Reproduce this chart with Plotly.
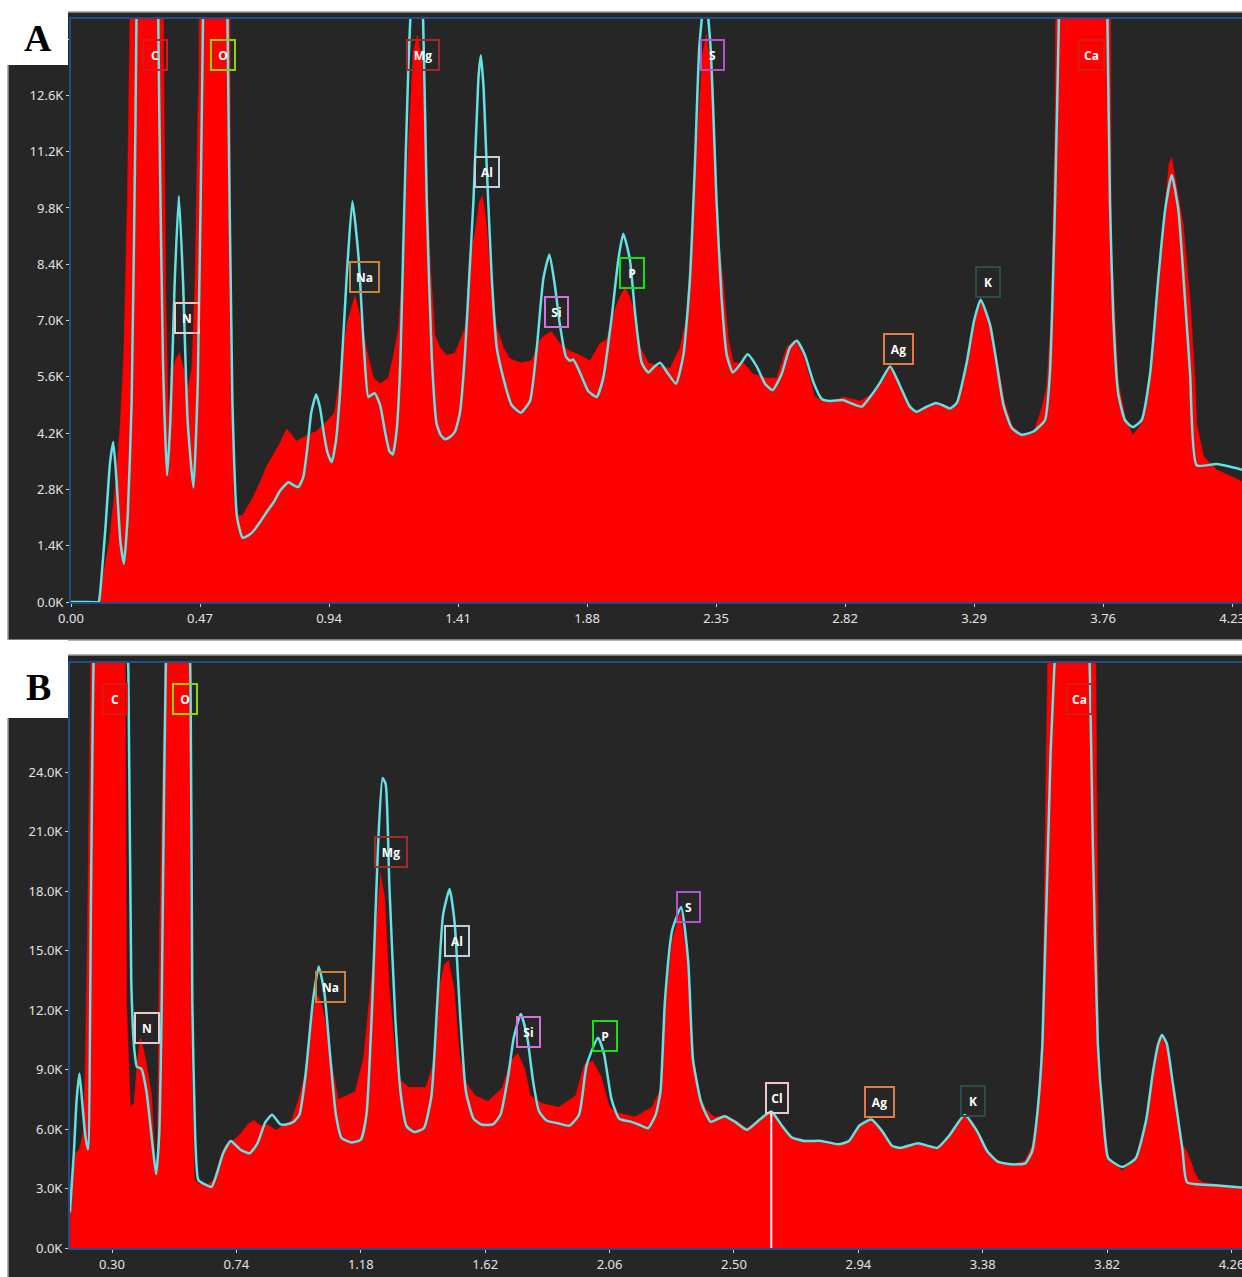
import plotly.graph_objects as go

# ---------------- Spectrum A ----------------
# fitted envelope (keV, counts)
A_FIT_KEV = [0.000, 0.050, 0.100, 0.103, 0.125, 0.142, 0.154, 0.166, 0.180, 0.193, 0.207, 0.221,
             0.235, 0.250, 0.277, 0.305, 0.322, 0.335, 0.350, 0.362, 0.378, 0.393, 0.408, 0.425,
             0.446, 0.462, 0.480, 0.500, 0.525, 0.550, 0.570, 0.588, 0.605, 0.625, 0.645, 0.664,
             0.690, 0.713, 0.740, 0.761, 0.792, 0.812, 0.828, 0.846, 0.862, 0.875, 0.893, 0.908,
             0.920, 0.935, 0.950, 0.965, 0.980, 1.004, 1.025, 1.047, 1.067, 1.083, 1.095, 1.107,
             1.126, 1.145, 1.160, 1.172, 1.186, 1.200, 1.211, 1.229, 1.259, 1.283, 1.296, 1.314,
             1.332, 1.347, 1.362, 1.380, 1.399, 1.417, 1.435, 1.450, 1.466, 1.484, 1.493, 1.503,
             1.514, 1.533, 1.551, 1.575, 1.605, 1.639, 1.672, 1.697, 1.721, 1.743, 1.763, 1.781,
             1.803, 1.818, 1.830, 1.854, 1.885, 1.915, 1.939, 1.970, 1.994, 2.012, 2.036, 2.055,
             2.079, 2.103, 2.125, 2.146, 2.176, 2.204, 2.231, 2.255, 2.273, 2.289, 2.310, 2.330,
             2.352, 2.370, 2.389, 2.411, 2.437, 2.465, 2.498, 2.528, 2.556, 2.589, 2.619, 2.644,
             2.674, 2.704, 2.735, 2.765, 2.814, 2.850, 2.881, 2.911, 2.947, 2.984, 3.020, 3.056,
             3.081, 3.115, 3.151, 3.180, 3.202, 3.227, 3.263, 3.290, 3.314, 3.348, 3.372, 3.397,
             3.427, 3.463, 3.506, 3.548, 3.566, 3.585, 3.603, 3.640, 3.690, 3.740, 3.773, 3.785,
             3.797, 3.815, 3.840, 3.868, 3.900, 3.931, 3.961, 3.986, 4.010, 4.034, 4.058, 4.077,
             4.101, 4.174, 4.266]
A_FIT_CTS = [0, 0, 0, 50, 1800, 3450, 3980, 3000, 1500, 950, 2200, 5000,
             12000, 22000, 30000, 22000, 12000, 6000, 3150, 4500, 8000, 10100, 8000, 4500,
             2850, 5500, 14000, 28000, 40000, 28000, 14500, 5000, 2100, 1600, 1650, 1760,
             2000, 2240, 2500, 2760, 2980, 2900, 2860, 3100, 3900, 4700, 5160, 4800,
             4240, 3700, 3480, 4000, 5190, 8050, 9970, 8620, 6330, 5100, 5150, 5190,
             4900, 4200, 3750, 3670, 4240, 6000, 9000, 13300, 17500, 14400, 9950, 6140,
             4430, 4150, 4050, 4100, 4240, 4710, 6140, 8000, 9950, 13000, 13600, 12800,
             10900, 8050, 6330, 5570, 4900, 4710, 5000, 6330, 8050, 8640, 7860, 6900,
             6100, 6000, 6030, 5710, 5240, 5100, 5570, 7100, 8520, 9160, 8520, 7190,
             5950, 5710, 5850, 5950, 5670, 5430, 6140, 8050, 10900, 13800, 15200, 13800,
             9950, 7570, 6140, 5710, 5900, 6160, 5860, 5430, 5270, 5670, 6330, 6500,
             6140, 5480, 5050, 5000, 5020, 4920, 4860, 5100, 5450, 5860, 5380, 4860,
             4730, 4850, 4950, 4880, 4810, 4950, 5950, 7000, 7520, 6900, 5950, 4900,
             4330, 4160, 4240, 4520, 5670, 9950, 16000, 35000, 45000, 35000, 16000, 9950,
             7100, 5190, 4520, 4350, 4520, 5670, 8050, 9760, 10620, 9760, 7570, 5670,
             3400, 3430, 3290]

# measured counts (keV, counts)
A_RAW_KEV = [0.000, 0.100, 0.110, 0.125, 0.140, 0.160, 0.178, 0.192, 0.205, 0.218, 0.230, 0.277,
             0.320, 0.335, 0.345, 0.355, 0.365, 0.380, 0.395, 0.410, 0.425, 0.440, 0.452, 0.462,
             0.466, 0.480, 0.525, 0.572, 0.582, 0.592, 0.605, 0.625, 0.645, 0.664, 0.690, 0.713,
             0.740, 0.761, 0.785, 0.800, 0.820, 0.835, 0.856, 0.875, 0.893, 0.910, 0.930, 0.960,
             0.985, 1.004, 1.020, 1.035, 1.050, 1.060, 1.078, 1.102, 1.126, 1.156, 1.175, 1.193,
             1.211, 1.229, 1.247, 1.262, 1.278, 1.290, 1.308, 1.326, 1.344, 1.368, 1.399, 1.417,
             1.435, 1.448, 1.460, 1.472, 1.487, 1.499, 1.514, 1.533, 1.551, 1.575, 1.600, 1.636,
             1.678, 1.709, 1.730, 1.750, 1.781, 1.818, 1.854, 1.891, 1.927, 1.951, 1.982, 2.000,
             2.018, 2.035, 2.049, 2.073, 2.103, 2.146, 2.182, 2.219, 2.243, 2.267, 2.285, 2.300,
             2.315, 2.340, 2.358, 2.376, 2.395, 2.413, 2.449, 2.485, 2.534, 2.571, 2.607, 2.637,
             2.668, 2.710, 2.753, 2.814, 2.875, 2.923, 2.960, 2.984, 3.020, 3.056, 3.085, 3.150,
             3.200, 3.230, 3.263, 3.290, 3.314, 3.350, 3.375, 3.400, 3.427, 3.463, 3.506, 3.536,
             3.554, 3.570, 3.585, 3.600, 3.690, 3.780, 3.790, 3.800, 3.815, 3.840, 3.868, 3.900,
             3.931, 3.961, 3.986, 4.000, 4.010, 4.030, 4.052, 4.077, 4.095, 4.101, 4.126, 4.174,
             4.220, 4.266]
A_RAW_CTS = [0, 0, 400, 1000, 1550, 2800, 4300, 6100, 9900, 16000, 30000, 35000,
             30000, 16000, 7700, 4500, 5600, 6000, 6200, 5800, 5300, 5800, 8000, 12000,
             13000, 30000, 40000, 30000, 9000, 2600, 2150, 2150, 2400, 2620, 3000, 3380,
             3700, 3950, 4300, 4200, 4000, 4050, 4140, 4200, 4240, 4350, 4480, 4710,
             5860, 6900, 7300, 7620, 7200, 6900, 6240, 5570, 5430, 5570, 6140, 6810,
             8620, 11400, 13700, 14100, 13500, 11900, 8520, 6620, 6330, 6140, 6190, 6520,
             6810, 7600, 8810, 9200, 9950, 10100, 9380, 7670, 6810, 6330, 6050, 5950,
             6000, 6520, 6650, 6730, 6430, 6240, 6140, 6000, 6430, 6520, 7290, 7600,
             7810, 7600, 7290, 6330, 5950, 5860, 5810, 6330, 7100, 9950, 11900, 13600,
             14100, 12800, 9100, 7950, 6520, 5950, 5950, 5670, 5570, 5570, 6330, 6520,
             6140, 5100, 4950, 5100, 5000, 5190, 5500, 5850, 5400, 4800, 4700, 4950,
             4800, 4900, 5950, 7000, 7480, 6900, 6000, 5000, 4400, 4150, 4200, 4810,
             5330, 7000, 12000, 30000, 45000, 30000, 9000, 7500, 5500, 4600, 4140, 4450,
             5600, 8000, 10000, 10900, 11050, 10300, 9380, 7480, 5500, 4430, 3620, 3290,
             3150, 3000]

# ---------------- Spectrum B ----------------
B_FIT_KEV = [0.151, 0.165, 0.175, 0.185, 0.196, 0.205, 0.215, 0.226, 0.240, 0.290, 0.345, 0.358,
             0.368, 0.379, 0.388, 0.404, 0.422, 0.442, 0.456, 0.467, 0.476, 0.485, 0.530, 0.578,
             0.584, 0.594, 0.605, 0.625, 0.652, 0.672, 0.693, 0.720, 0.753, 0.787, 0.814, 0.842,
             0.866, 0.896, 0.916, 0.943, 0.963, 0.984, 1.011, 1.031, 1.051, 1.072, 1.092, 1.112,
             1.146, 1.180, 1.200, 1.221, 1.241, 1.257, 1.268, 1.281, 1.302, 1.322, 1.342, 1.369,
             1.403, 1.430, 1.451, 1.471, 1.494, 1.512, 1.532, 1.552, 1.579, 1.606, 1.647, 1.674,
             1.701, 1.721, 1.746, 1.769, 1.789, 1.810, 1.837, 1.877, 1.918, 1.952, 1.979, 2.019,
             2.040, 2.067, 2.094, 2.135, 2.162, 2.196, 2.223, 2.240, 2.256, 2.281, 2.313, 2.338,
             2.355, 2.381, 2.394, 2.418, 2.467, 2.504, 2.546, 2.589, 2.632, 2.669, 2.705, 2.748,
             2.809, 2.870, 2.907, 2.944, 2.986, 3.023, 3.060, 3.090, 3.151, 3.219, 3.261, 3.316,
             3.359, 3.396, 3.433, 3.481, 3.530, 3.555, 3.573, 3.591, 3.620, 3.646, 3.700, 3.752,
             3.770, 3.787, 3.805, 3.824, 3.873, 3.921, 3.958, 3.982, 4.001, 4.014, 4.031, 4.050,
             4.068, 4.087, 4.103, 4.200, 4.297]
B_FIT_CTS = [1800, 4780, 7500, 8800, 7100, 5750, 4970, 18300, 35000, 50000, 35000, 29000,
             13500, 10000, 9140, 9040, 7880, 5360, 3720, 5750, 12500, 24100, 60000, 28000,
             12500, 5750, 3430, 3230, 3080, 3810, 4780, 5400, 4970, 4780, 5260, 6330,
             6720, 6230, 6230, 6370, 6720, 8650, 12500, 14200, 12900, 9620, 6720, 5550,
             5320, 5460, 6720, 12500, 20300, 23700, 23400, 18300, 11600, 7680, 6140, 5850,
             6040, 7680, 12500, 16800, 18100, 16400, 11600, 7880, 6520, 6230, 6230, 6720,
             8650, 10600, 11800, 10600, 8460, 6910, 6430, 6290, 6170, 6720, 9230, 10600,
             9810, 7490, 6520, 6370, 6230, 6040, 6720, 7880, 12500, 16000, 17200, 14500,
             9500, 7500, 6970, 6360, 6650, 6360, 5960, 6450, 6880, 6180, 5570, 5400,
             5400, 5230, 5400, 6180, 6480, 5920, 5140, 5050, 5280, 5050, 5660, 6710,
             5920, 4880, 4360, 4220, 4270, 4880, 6790, 10300, 25000, 33000, 45000, 33000,
             20000, 10300, 6790, 4530, 4090, 4530, 6450, 8880, 10300, 10740, 10300, 8540,
             6800, 4900, 3310, 3170, 3050]

B_RAW_KEV = [0.151, 0.158, 0.171, 0.185, 0.198, 0.205, 0.212, 0.222, 0.230, 0.290, 0.345, 0.352,
             0.365, 0.378, 0.390, 0.400, 0.412, 0.425, 0.440, 0.452, 0.460, 0.468, 0.478, 0.485,
             0.530, 0.575, 0.582, 0.592, 0.610, 0.640, 0.660, 0.680, 0.700, 0.720, 0.740, 0.760,
             0.780, 0.800, 0.830, 0.850, 0.880, 0.910, 0.935, 0.960, 0.980, 1.000, 1.020, 1.030,
             1.045, 1.065, 1.079, 1.100, 1.130, 1.160, 1.190, 1.210, 1.230, 1.250, 1.265, 1.280,
             1.300, 1.320, 1.350, 1.380, 1.410, 1.435, 1.460, 1.475, 1.490, 1.510, 1.530, 1.555,
             1.585, 1.630, 1.680, 1.710, 1.735, 1.760, 1.780, 1.820, 1.880, 1.940, 1.970, 2.000,
             2.030, 2.060, 2.090, 2.150, 2.210, 2.240, 2.256, 2.281, 2.310, 2.338, 2.355, 2.380,
             2.400, 2.430, 2.467, 2.504, 2.546, 2.589, 2.632, 2.669, 2.705, 2.748, 2.809, 2.870,
             2.907, 2.944, 2.986, 3.023, 3.060, 3.090, 3.151, 3.219, 3.261, 3.316, 3.359, 3.396,
             3.433, 3.481, 3.530, 3.555, 3.573, 3.591, 3.610, 3.700, 3.780, 3.790, 3.805, 3.824,
             3.873, 3.921, 3.958, 3.982, 4.001, 4.014, 4.031, 4.050, 4.068, 4.087, 4.105, 4.129,
             4.141, 4.160, 4.297]
B_RAW_CTS = [1500, 3040, 4780, 5000, 5800, 9000, 14800, 27600, 35000, 50000, 35000, 12100,
             7100, 7300, 9500, 10600, 10000, 9000, 7700, 4400, 4000, 15800, 28000, 40000,
             60000, 30000, 9000, 3430, 3230, 3230, 3400, 4400, 5170, 5360, 5550, 5850,
             6230, 6430, 6140, 6230, 5940, 6230, 6430, 7490, 8650, 10600, 12700, 12700,
             12100, 10600, 9100, 7500, 7680, 7880, 9600, 12500, 15400, 18900, 17600, 13300,
             10000, 8460, 8100, 8100, 8100, 9230, 13300, 14300, 14500, 13100, 9600, 8260,
             7680, 7390, 8070, 9430, 9810, 9040, 7680, 7300, 7100, 7680, 9230, 9430,
             8650, 7100, 6810, 6620, 7100, 8000, 12000, 15500, 16900, 14300, 9800, 7600,
             7000, 6600, 6700, 6450, 6050, 6500, 6850, 6250, 5600, 5450, 5350, 5200,
             5380, 6150, 6450, 5950, 5050, 5000, 5250, 5000, 5650, 6700, 5950, 4900,
             4400, 4200, 4400, 5200, 7000, 11000, 30000, 45000, 30000, 9000, 7000, 4600,
             3900, 4500, 6500, 8900, 10300, 10600, 10100, 8500, 6900, 5200, 4790, 3830,
             3480, 3300, 3050]

# axis ticks (the top tick of each count axis carries no label)
A_XTICKS = [0.00, 0.47, 0.94, 1.41, 1.88, 2.35, 2.82, 3.29, 3.76, 4.23]
A_YTICKS = [0, 1400, 2800, 4200, 5600, 7000, 8400, 9800, 11200, 12600, 14000]
B_XTICKS = [0.30, 0.74, 1.18, 1.62, 2.06, 2.50, 2.94, 3.38, 3.82, 4.26]
B_YTICKS = [0, 3000, 6000, 9000, 12000, 15000, 18000, 21000, 24000, 27000]

# characteristic line energies (keV) of the identified elements
LINE_KEV = {"C": 0.277, "N": 0.392, "O": 0.525, "Na": 1.041, "Mg": 1.254, "Al": 1.487,
            "Si": 1.740, "P": 2.013, "S": 2.307, "Cl": 2.622, "K": 3.313, "Ca": 3.690,
            "Ag": 2.984}
A_ELEMENTS = ["C", "N", "O", "Na", "Mg", "Al", "Si", "P", "S", "Ag", "K", "Ca"]
B_ELEMENTS = ["C", "N", "O", "Na", "Mg", "Al", "Si", "P", "S", "Cl", "Ag", "K", "Ca"]
# vertical placement of each element tag (counts)
A_TAG_CTS = {"C": 13600, "O": 13600, "Mg": 13600, "S": 13600, "Ca": 13600, "N": 7060,
             "Na": 8080, "Al": 10690, "Si": 7210, "P": 8190, "Ag": 6290, "K": 7960}
B_TAG_CTS = {"C": 27700, "O": 27700, "Ca": 27700, "N": 11070, "Na": 13160, "Mg": 19990,
             "Al": 15480, "Si": 10890, "P": 10690, "S": 17190, "Cl": 7560, "Ag": 7360,
             "K": 7410}
TAG_COLORS = {"C": "#d41c1c", "N": "#f2c4cc", "O": "#8ad400", "Na": "#c8843c", "Mg": "#a02a2a",
              "Al": "#b8d2e0", "Si": "#d472dc", "P": "#14e014", "S": "#b452cc", "Cl": "#f2c4cc",
              "K": "#2c4a4a", "Ca": "#d41c1c", "Ag": "#e27a48"}
TAG_WIDTH = {"C": 14, "N": 14, "O": 14, "P": 14, "S": 13, "K": 14, "Na": 19, "Mg": 22,
             "Al": 14, "Si": 13, "Cl": 12, "Ca": 15, "Ag": 19}
CL_MARKER_KEV = 2.632

W, H = 1242, 1277
BG = "#262626"
RED = "#ff0000"
CYAN = "#62e2e4"
AXIS_BLUE = "#1f4f86"
TICK_FONT = dict(family="Noto Sans, Open Sans, sans-serif", size=13, color="#e2e2e2")


def fx(p):
    return p / W


def fy(p):
    return 1 - p / H


fig = go.Figure()

fig.add_trace(go.Scatter(x=A_RAW_KEV, y=A_RAW_CTS, mode="lines", fill="tozeroy",
                         fillcolor=RED, line=dict(color=RED, width=0.5),
                         xaxis="x", yaxis="y", hoverinfo="skip"))
fig.add_trace(go.Scatter(x=A_FIT_KEV, y=A_FIT_CTS, mode="lines",
                         line=dict(color=CYAN, width=2.5, shape="spline", smoothing=0.5),
                         xaxis="x", yaxis="y", hoverinfo="skip"))
fig.add_trace(go.Scatter(x=B_RAW_KEV, y=B_RAW_CTS, mode="lines", fill="tozeroy",
                         fillcolor=RED, line=dict(color=RED, width=0.5),
                         xaxis="x2", yaxis="y2", hoverinfo="skip"))
fig.add_trace(go.Scatter(x=B_FIT_KEV, y=B_FIT_CTS, mode="lines",
                         line=dict(color=CYAN, width=2.5, shape="spline", smoothing=0.5),
                         xaxis="x2", yaxis="y2", hoverinfo="skip"))


def ktext(ticks):
    # the uppermost tick is left unlabelled
    return [f"{v / 1000:.1f}K" for v in ticks[:-1]] + [""]


common_x = dict(showgrid=False, zeroline=False, showline=True, linecolor=AXIS_BLUE,
                linewidth=2, mirror=True, ticks="outside", ticklen=3, tickwidth=1,
                tickcolor="#cfcfcf", tickfont=TICK_FONT, fixedrange=True, automargin=False,
                ticklabeloverflow="allow")
common_y = dict(showgrid=False, zeroline=False, showline=True, linecolor=AXIS_BLUE,
                linewidth=2, ticks="outside", ticklen=3, tickwidth=1,
                tickcolor="#cfcfcf", tickfont=TICK_FONT, fixedrange=True, automargin=False)

fig.update_layout(
    width=W, height=H,
    margin=dict(l=0, r=0, t=0, b=0, autoexpand=False),
    paper_bgcolor="white",
    plot_bgcolor=BG,
    showlegend=False,
    xaxis=dict(domain=[fx(71), 1], anchor="y", range=[0, 4.266],
               tickvals=A_XTICKS, ticktext=[f"{v:.2f}" for v in A_XTICKS], **common_x),
    yaxis=dict(domain=[fy(602), fy(19)], anchor="x", range=[0, 14500],
               tickvals=A_YTICKS, ticktext=ktext(A_YTICKS), **common_y),
    xaxis2=dict(domain=[fx(70), 1], anchor="y2", range=[0.1514, 4.297],
                tickvals=B_XTICKS, ticktext=[f"{v:.2f}" for v in B_XTICKS], **common_x),
    yaxis2=dict(domain=[fy(1248), fy(663)], anchor="x2", range=[0, 29500],
                tickvals=B_YTICKS, ticktext=ktext(B_YTICKS), **common_y),
)

shapes = []
# dark panel frames
for top, bottom in [(12, 640), (655, 1285)]:
    shapes.append(dict(type="rect", xref="paper", yref="paper", layer="below",
                       x0=fx(8), x1=fx(1250), y0=fy(bottom), y1=fy(top),
                       fillcolor=BG, line=dict(color="#9a9a9a", width=1.5)))
# white tag boxes for the panel letters
for top, bottom in [(0, 65), (640, 718)]:
    shapes.append(dict(type="rect", xref="paper", yref="paper", layer="above",
                       x0=0, x1=fx(68), y0=fy(bottom), y1=fy(top),
                       fillcolor="white", line=dict(width=0)))
# marker line at the Cl position in spectrum B
cl_idx = B_FIT_KEV.index(CL_MARKER_KEV)
shapes.append(dict(type="line", xref="x2", yref="y2", layer="above",
                   x0=CL_MARKER_KEV, x1=CL_MARKER_KEV, y0=0, y1=B_FIT_CTS[cl_idx],
                   line=dict(color="white", width=2)))
fig.update_layout(shapes=shapes)

annotations = []
for letter, cy in [("A", 38), ("B", 687)]:
    annotations.append(dict(xref="paper", yref="paper", x=fx(38), y=fy(cy), text=f"<b>{letter}</b>",
                            showarrow=False, xanchor="center", yanchor="middle",
                            font=dict(family="Liberation Serif, Times New Roman, serif",
                                      size=38, color="black")))


def add_tags(elements, tag_cts, xref, yref, shift):
    for el in elements:
        annotations.append(dict(
            xref=xref, yref=yref, x=LINE_KEV[el], y=tag_cts[el], xshift=shift,
            text=f"<b>{el}</b>", showarrow=False, xanchor="center", yanchor="middle",
            font=dict(family="Open Sans, Noto Sans, sans-serif", size=12, color="white"),
            bordercolor=TAG_COLORS[el], borderwidth=2, borderpad=4, height=20,
            bgcolor="rgba(0,0,0,0)", width=TAG_WIDTH[el]))


add_tags(A_ELEMENTS, A_TAG_CTS, "x", "y", 8)
add_tags(B_ELEMENTS, B_TAG_CTS, "x2", "y2", 9)
fig.update_layout(annotations=annotations)

fig.write_html("out.html")
